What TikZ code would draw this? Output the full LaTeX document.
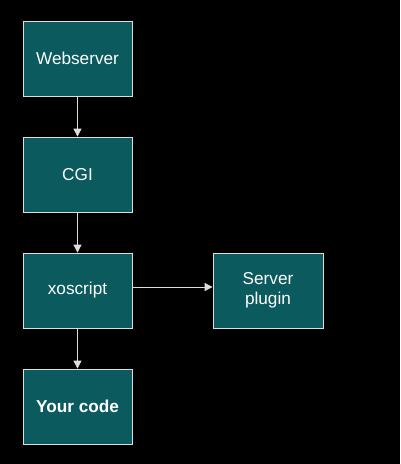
\documentclass[tikz,border=0pt]{standalone}
\usepackage{fontspec}
\setmainfont{Liberation Sans}
\usetikzlibrary{arrows.meta, positioning}

\definecolor{boxteal}{HTML}{0A5A5E}
\definecolor{edgegray}{HTML}{DDDDDD}

\begin{document}
\begin{tikzpicture}[
    x=1pt, y=-1pt,
    block/.style={rectangle, draw=edgegray, line width=0.8pt, fill=boxteal, text=white, align=center, minimum width=109pt, minimum height=75pt, inner sep=0pt, font=\fontsize{17.2}{20}\selectfont},
    arrow/.style={-{Triangle[length=8pt, width=8pt]}, draw=edgegray, line width=0.8pt}
]

% background and bounding box
\fill[black] (0, 0) rectangle (400, 464);
\useasboundingbox (0, 0) rectangle (400, 464);

\node[block] (webserver) at (77.5, 58.5)  {Webserver};
\node[block] (cgi)       at (77.5, 174.5) {CGI};
\node[block] (xoscript)  at (77.5, 290.5) {xoscript};
\node[block] (yourcode)  at (77.5, 406.5) {\textbf{Your code}};

\node[block, minimum width=110pt] (plugin) at (268, 290.5) {Server\\plugin};

% Edges
\draw[arrow] (webserver) -- (cgi);
\draw[arrow] (cgi) -- (xoscript);
\draw[arrow] (xoscript) -- (yourcode);
\draw[arrow] ([yshift=3.5pt]xoscript.east) -- ([yshift=3.5pt]plugin.west);

\end{tikzpicture}
\end{document}
